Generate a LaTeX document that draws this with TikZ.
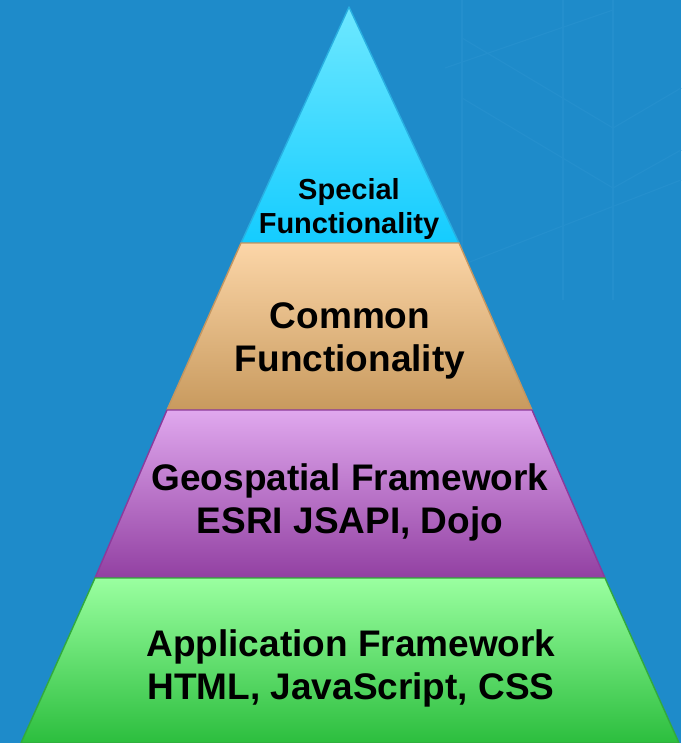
\documentclass[tikz,border=0pt]{standalone}
\usepackage{fontspec}
\setmainfont{Liberation Sans}
\definecolor{bgblue}{HTML}{1E8BCA}
\definecolor{bgline}{HTML}{248FCD}
\tikzset{
  layer/.style={line width=1.4pt, line join=round},
  label/.style={align=center, font=\bfseries\fontsize{37}{43}\selectfont, text=black, inner sep=0pt}
}
\begin{document}
\begin{tikzpicture}[x=1pt, y=-1pt]
  \fill[bgblue] (0, 0) rectangle (681, 743);
  \useasboundingbox (0, 0) rectangle (681, 743);

  % faint pattern in the background
  \begin{scope}[bgline, line width=1.2pt]
    \draw (462, 0) -- (462, 300);
    \draw (563, 0) -- (563, 300);
    \draw (613, 0) -- (613, 300);
    \draw (462, 38) -- (613, 128) -- (681, 88);
    \draw (462, 98) -- (613, 188) -- (681, 150);
    \draw (445, 68) -- (613, 10);
    \draw (462, 265) -- (681, 180);
  \end{scope}

  \shade[layer, draw={rgb,255:red,40;green,175;blue,225}, top color={rgb,255:red,110;green,232;blue,255}, bottom color={rgb,255:red,20;green,204;blue,255}]
    (349, 7) -- (459, 243) -- (241, 243) -- cycle;
  \shade[layer, draw={rgb,255:red,196;green,150;blue,96}, top color={rgb,255:red,252;green,214;blue,168}, bottom color={rgb,255:red,200;green,154;blue,94}]
    (241, 243) -- (459, 243) -- (532, 410) -- (167, 410) -- cycle;
  \shade[layer, draw={rgb,255:red,140;green,58;blue,155}, top color={rgb,255:red,224;green,168;blue,238}, bottom color={rgb,255:red,146;green,64;blue,162}]
    (167, 410) -- (532, 410) -- (605, 578) -- (95, 578) -- cycle;
  \shade[layer, draw={rgb,255:red,50;green,170;blue,60}, top color={rgb,255:red,154;green,255;blue,160}, bottom color={rgb,255:red,44;green,190;blue,62}]
    (95, 578) -- (605, 578) -- (679, 743) -- (21, 743) -- cycle;

  \node[label, font=\bfseries\fontsize{29}{34}\selectfont] (special) at (349, 209) {Special\\Functionality};
  \node[label] (common) at (350, 341) {Common\\Functionality};
  \node[label] (geo) at (350, 502) {Geospatial Framework\\ESRI JSAPI, Dojo};
  \node[label] (app) at (351, 668) {Application Framework\\HTML, JavaScript, CSS};
\end{tikzpicture}
\end{document}
